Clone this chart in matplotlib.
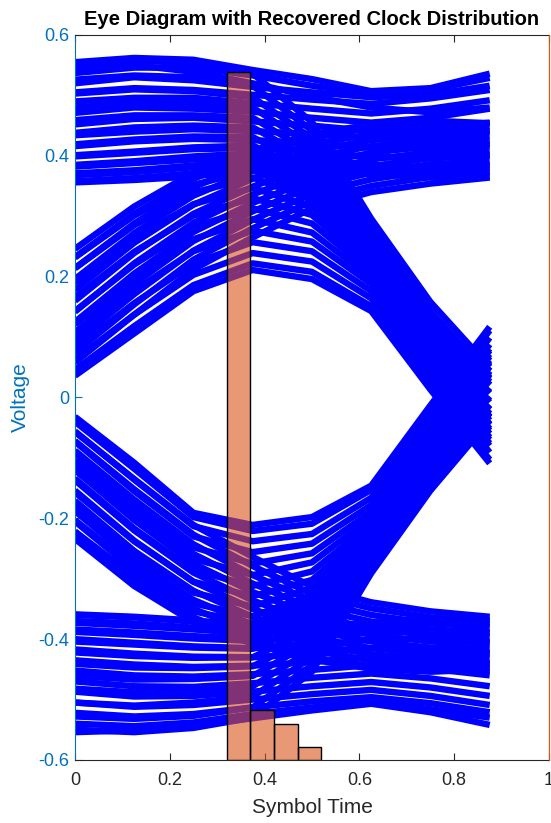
import numpy as np
import matplotlib
matplotlib.use("Agg")
import matplotlib.pyplot as plt

plt.rcParams['font.family'] = ['Liberation Sans', 'DejaVu Sans']

# sample instants inside one symbol (8 samples per symbol)
t_samples = [0, 0.125, 0.25, 0.375, 0.5, 0.625, 0.75, 0.875]

# eye traces, grouped by (previous, current, next) symbol
high_hold = [
    [0.555, 0.562, 0.559, 0.542, 0.527, 0.507, 0.512, 0.536],
    [0.546, 0.550, 0.539, 0.520, 0.498, 0.480, 0.472, 0.480],
    [0.537, 0.546, 0.546, 0.533, 0.516, 0.502, 0.509, 0.529],
    [0.520, 0.530, 0.525, 0.514, 0.505, 0.497, 0.501, 0.516],
    [0.505, 0.512, 0.509, 0.501, 0.493, 0.486, 0.495, 0.509],
    [0.490, 0.496, 0.496, 0.487, 0.478, 0.470, 0.478, 0.492],
    [0.471, 0.480, 0.478, 0.473, 0.463, 0.455, 0.463, 0.478],
    [0.452, 0.461, 0.463, 0.457, 0.450, 0.441, 0.445, 0.455],
    [0.434, 0.440, 0.444, 0.441, 0.436, 0.428, 0.431, 0.441],
    [0.416, 0.424, 0.428, 0.426, 0.421, 0.413, 0.412, 0.420],
    [0.399, 0.405, 0.411, 0.413, 0.407, 0.398, 0.396, 0.402],
    [0.382, 0.388, 0.394, 0.398, 0.393, 0.385, 0.381, 0.385],
    [0.368, 0.373, 0.381, 0.386, 0.384, 0.376, 0.371, 0.374],
    [0.356, 0.360, 0.366, 0.376, 0.378, 0.370, 0.364, 0.366],
]

high_fall = [
    [0.550, 0.558, 0.553, 0.536, 0.456, 0.296, 0.158, 0.050],
    [0.526, 0.533, 0.530, 0.516, 0.442, 0.283, 0.143, 0.036],
    [0.503, 0.510, 0.507, 0.497, 0.429, 0.272, 0.130, 0.021],
    [0.480, 0.488, 0.487, 0.480, 0.416, 0.263, 0.116, 0.007],
    [0.459, 0.467, 0.467, 0.463, 0.404, 0.251, 0.103, -0.008],
    [0.438, 0.447, 0.450, 0.447, 0.393, 0.243, 0.091, -0.020],
    [0.419, 0.427, 0.432, 0.431, 0.381, 0.233, 0.081, -0.032],
    [0.401, 0.407, 0.414, 0.417, 0.371, 0.225, 0.071, -0.044],
    [0.385, 0.391, 0.399, 0.404, 0.362, 0.217, 0.061, -0.055],
    [0.371, 0.376, 0.384, 0.392, 0.353, 0.209, 0.051, -0.066],
    [0.358, 0.363, 0.371, 0.381, 0.345, 0.201, 0.042, -0.076],
]

rise_hold = [
    [0.246, 0.316, 0.372, 0.408, 0.436, 0.452, 0.458, 0.454],
    [0.232, 0.304, 0.362, 0.400, 0.430, 0.446, 0.452, 0.450],
    [0.214, 0.288, 0.348, 0.388, 0.419, 0.436, 0.443, 0.441],
    [0.196, 0.272, 0.334, 0.375, 0.408, 0.426, 0.434, 0.433],
    [0.178, 0.256, 0.319, 0.362, 0.397, 0.416, 0.425, 0.425],
    [0.160, 0.239, 0.304, 0.349, 0.385, 0.405, 0.416, 0.417],
    [0.142, 0.222, 0.289, 0.336, 0.373, 0.394, 0.406, 0.408],
    [0.125, 0.205, 0.274, 0.322, 0.361, 0.383, 0.396, 0.400],
    [0.108, 0.188, 0.259, 0.308, 0.349, 0.372, 0.386, 0.391],
    [0.091, 0.171, 0.243, 0.294, 0.337, 0.361, 0.376, 0.382],
    [0.074, 0.154, 0.228, 0.280, 0.325, 0.350, 0.365, 0.373],
    [0.058, 0.137, 0.212, 0.265, 0.313, 0.340, 0.354, 0.364],
]

rise_fall = [
    [0.036, 0.106, 0.176, 0.211, 0.196, 0.143, 0.013, -0.109],
    [0.046, 0.118, 0.186, 0.222, 0.208, 0.151, 0.020, -0.103],
    [0.063, 0.137, 0.203, 0.239, 0.225, 0.164, 0.032, -0.091],
    [0.081, 0.156, 0.222, 0.257, 0.242, 0.176, 0.043, -0.080],
    [0.100, 0.177, 0.242, 0.276, 0.258, 0.188, 0.053, -0.070],
    [0.121, 0.198, 0.262, 0.295, 0.273, 0.198, 0.062, -0.060],
    [0.143, 0.220, 0.282, 0.313, 0.288, 0.208, 0.070, -0.052],
    [0.166, 0.241, 0.301, 0.330, 0.302, 0.217, 0.077, -0.045],
    [0.190, 0.263, 0.320, 0.347, 0.315, 0.226, 0.084, -0.038],
    [0.214, 0.285, 0.339, 0.364, 0.327, 0.234, 0.090, -0.032],
    [0.232, 0.301, 0.352, 0.376, 0.336, 0.240, 0.095, -0.027],
]

low_hold = [
    [-0.359, -0.363, -0.369, -0.377, -0.380, -0.373, -0.367, -0.368],
    [-0.370, -0.374, -0.381, -0.388, -0.388, -0.381, -0.374, -0.376],
    [-0.384, -0.389, -0.395, -0.400, -0.397, -0.389, -0.386, -0.389],
    [-0.400, -0.406, -0.412, -0.415, -0.410, -0.401, -0.399, -0.405],
    [-0.417, -0.424, -0.429, -0.430, -0.424, -0.415, -0.415, -0.423],
    [-0.435, -0.442, -0.446, -0.444, -0.438, -0.430, -0.432, -0.442],
    [-0.452, -0.460, -0.462, -0.458, -0.451, -0.443, -0.449, -0.460],
    [-0.470, -0.478, -0.479, -0.473, -0.464, -0.457, -0.465, -0.478],
    [-0.487, -0.495, -0.494, -0.487, -0.478, -0.471, -0.480, -0.494],
    [-0.505, -0.512, -0.509, -0.500, -0.491, -0.484, -0.494, -0.509],
    [-0.522, -0.528, -0.524, -0.513, -0.503, -0.496, -0.506, -0.521],
    [-0.540, -0.544, -0.538, -0.524, -0.513, -0.504, -0.516, -0.530],
    [-0.554, -0.551, -0.543, -0.531, -0.518, -0.507, -0.521, -0.542],
]

low_rise = [
    [-0.550, -0.554, -0.547, -0.530, -0.454, -0.291, -0.154, -0.038],
    [-0.528, -0.532, -0.527, -0.513, -0.443, -0.281, -0.142, -0.026],
    [-0.505, -0.510, -0.505, -0.495, -0.430, -0.270, -0.128, -0.012],
    [-0.482, -0.488, -0.485, -0.478, -0.417, -0.260, -0.115, 0.002],
    [-0.461, -0.467, -0.466, -0.461, -0.405, -0.250, -0.102, 0.016],
    [-0.441, -0.447, -0.448, -0.445, -0.394, -0.241, -0.090, 0.028],
    [-0.422, -0.428, -0.431, -0.430, -0.383, -0.232, -0.079, 0.040],
    [-0.404, -0.409, -0.414, -0.416, -0.373, -0.224, -0.068, 0.051],
    [-0.388, -0.393, -0.399, -0.403, -0.363, -0.216, -0.058, 0.062],
    [-0.373, -0.378, -0.384, -0.391, -0.354, -0.208, -0.048, 0.072],
    [-0.360, -0.364, -0.371, -0.380, -0.346, -0.200, -0.039, 0.081],
]

fall_hold = [
    [-0.234, -0.312, -0.372, -0.408, -0.434, -0.449, -0.454, -0.450],
    [-0.222, -0.302, -0.364, -0.402, -0.430, -0.445, -0.451, -0.448],
    [-0.205, -0.286, -0.350, -0.389, -0.419, -0.435, -0.442, -0.440],
    [-0.188, -0.270, -0.335, -0.376, -0.408, -0.425, -0.433, -0.432],
    [-0.171, -0.254, -0.320, -0.363, -0.397, -0.415, -0.424, -0.424],
    [-0.154, -0.237, -0.305, -0.350, -0.385, -0.404, -0.414, -0.416],
    [-0.137, -0.220, -0.290, -0.336, -0.373, -0.393, -0.404, -0.407],
    [-0.120, -0.203, -0.275, -0.322, -0.361, -0.382, -0.394, -0.398],
    [-0.104, -0.186, -0.259, -0.308, -0.349, -0.371, -0.384, -0.389],
    [-0.088, -0.169, -0.243, -0.294, -0.337, -0.360, -0.374, -0.380],
    [-0.072, -0.152, -0.227, -0.279, -0.325, -0.349, -0.364, -0.371],
    [-0.057, -0.135, -0.211, -0.264, -0.313, -0.339, -0.354, -0.363],
]

fall_rise = [
    [-0.032, -0.108, -0.191, -0.211, -0.198, -0.146, -0.013, 0.117],
    [-0.040, -0.118, -0.198, -0.221, -0.209, -0.153, -0.019, 0.111],
    [-0.056, -0.136, -0.213, -0.238, -0.226, -0.166, -0.031, 0.099],
    [-0.073, -0.155, -0.230, -0.256, -0.242, -0.178, -0.042, 0.088],
    [-0.092, -0.175, -0.248, -0.275, -0.258, -0.189, -0.052, 0.078],
    [-0.112, -0.196, -0.267, -0.294, -0.273, -0.199, -0.061, 0.068],
    [-0.134, -0.217, -0.286, -0.312, -0.288, -0.209, -0.069, 0.059],
    [-0.157, -0.238, -0.305, -0.329, -0.302, -0.218, -0.076, 0.051],
    [-0.180, -0.259, -0.323, -0.346, -0.315, -0.227, -0.083, 0.044],
    [-0.203, -0.280, -0.341, -0.362, -0.327, -0.235, -0.089, 0.038],
    [-0.222, -0.296, -0.354, -0.374, -0.335, -0.240, -0.094, 0.033],
]

# recovered clock sampling instants, histogram
clock_edges = [0.32, 0.37, 0.42, 0.47, 0.52]
clock_counts = [873, 64, 46, 17]

left_color = (0, 0.447, 0.741)
right_color = (0.85, 0.325, 0.098)
gray = (0.15, 0.15, 0.15)

fig = plt.figure(figsize=(5.51, 8.23), dpi=100)
ax1 = fig.add_axes([0.136, 0.0766, 0.8603, 0.8809])

for group in [high_hold, high_fall, rise_hold, rise_fall,
              low_hold, low_rise, fall_hold, fall_rise]:
    for trace in group:
        ax1.plot(t_samples, trace, color=(0, 0, 1), lw=4.6,
                 solid_joinstyle='round', solid_capstyle='butt')

ax1.set_xlim(0, 1)
ax1.set_ylim(-0.6, 0.6)
ax1.set_xticks([0, 0.2, 0.4, 0.6, 0.8, 1])
ax1.set_xticklabels(['0', '0.2', '0.4', '0.6', '0.8', '1'])
ax1.set_yticks([-0.6, -0.4, -0.2, 0, 0.2, 0.4, 0.6])
ax1.set_yticklabels(['-0.6', '-0.4', '-0.2', '0', '0.2', '0.4', '0.6'])
ax1.tick_params(axis='x', direction='in', length=5, top=True, colors=gray, labelsize=13, pad=9)
ax1.tick_params(axis='y', direction='in', length=5, colors=left_color, labelsize=13, pad=4)
ax1.set_xlabel('Symbol Time', color=gray, fontsize=15, labelpad=6)
ax1.set_ylabel('Voltage', color=left_color, fontsize=15, labelpad=6)
ax1.set_title('Eye Diagram with Recovered Clock Distribution', fontsize=14.5,
              fontweight='bold', color='black', pad=7)
for side in ['top', 'bottom']:
    ax1.spines[side].set_color(gray)
ax1.spines['left'].set_color(left_color)

ax2 = ax1.twinx()
ax2.bar(clock_edges[:-1], clock_counts, width=np.diff(clock_edges), align='edge',
        color=right_color, alpha=0.6, edgecolor='none')
ax2.bar(clock_edges[:-1], clock_counts, width=np.diff(clock_edges), align='edge',
        fill=False, edgecolor='black', lw=1.0)
ax2.set_ylim(0, 920)
ax2.set_yticks([])
ax2.spines['right'].set_color(right_color)
ax2.spines['left'].set_visible(False)
ax2.spines['top'].set_visible(False)
ax2.spines['bottom'].set_visible(False)

fig.savefig('out.png', dpi=100)
